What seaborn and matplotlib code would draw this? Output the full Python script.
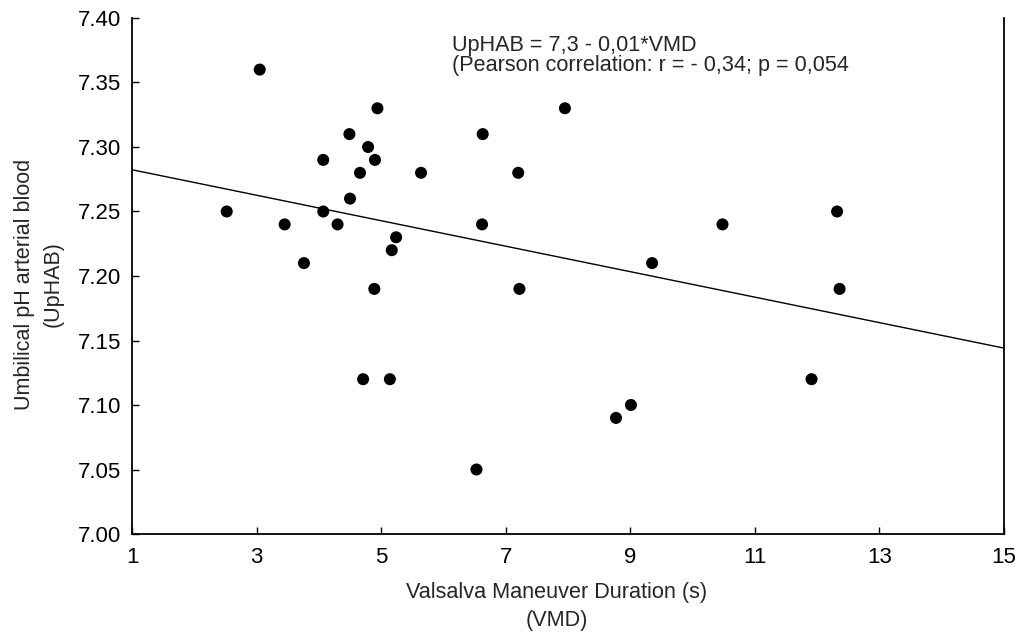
import matplotlib
matplotlib.use("Agg")
import matplotlib.pyplot as plt
import seaborn as sns
import pandas as pd

# Valsalva maneuver duration (s) vs umbilical arterial pH
vmd = [2.52, 3.05, 3.45, 3.76, 4.07, 4.07, 4.30, 4.49, 4.50, 4.66, 4.71,
       4.79, 4.89, 4.90, 4.94, 5.14, 5.17, 5.24, 5.64, 6.53, 6.62, 6.63,
       7.20, 7.22, 7.95, 8.77, 9.01, 9.35, 10.48, 11.91, 12.32, 12.36]
uphab = [7.25, 7.36, 7.24, 7.21, 7.29, 7.25, 7.24, 7.31, 7.26, 7.28, 7.12,
         7.30, 7.19, 7.29, 7.33, 7.12, 7.22, 7.23, 7.28, 7.05, 7.24, 7.31,
         7.28, 7.19, 7.33, 7.09, 7.10, 7.21, 7.24, 7.12, 7.25, 7.19]

x_ticks = [1, 3, 5, 7, 9, 11, 13, 15]
y_ticks = [7.00, 7.05, 7.10, 7.15, 7.20, 7.25, 7.30, 7.35, 7.40]

eq_text = "UpHAB = 7,3 - 0,01*VMD"
corr_text = "(Pearson correlation: r = - 0,34; p = 0,054"

df = pd.DataFrame({"VMD": vmd, "UpHAB": uphab})

sns.set_style("ticks")
plt.rcParams["font.family"] = ["Liberation Sans", "DejaVu Sans"]

fig = plt.figure(figsize=(10.22, 6.38), dpi=100)
ax = fig.add_axes([0.1292, 0.1630, 0.8532, 0.8088])
ax.set_xlim(1, 15)
ax.set_ylim(7.0, 7.4)

# regression line across the whole x range
sns.regplot(data=df, x="VMD", y="UpHAB", ax=ax, scatter=False, ci=None,
            truncate=False, line_kws={"color": "black", "lw": 1.0})
sns.scatterplot(data=df, x="VMD", y="UpHAB", ax=ax, color="black", s=75,
                edgecolor="none", zorder=3)

ax.set_xlim(1, 15)
ax.set_ylim(7.0, 7.4)
ax.set_xticks(x_ticks)
ax.set_yticks(y_ticks)
ax.set_yticklabels([f"{v:.2f}" for v in y_ticks])
ax.tick_params(axis="both", direction="in", length=5, width=1.0,
               labelsize=16, colors="black")
ax.tick_params(axis="x", pad=9)
ax.tick_params(axis="y", pad=8)

for side in ["left", "bottom", "right"]:
    ax.spines[side].set_linewidth(1.3)
    ax.spines[side].set_color("black")
ax.spines["top"].set_visible(False)

ax.set_xlabel("Valsalva Maneuver Duration (s)\n(VMD)", fontsize=15.6,
              linespacing=1.45, va="top")
ax.set_ylabel("Umbilical pH arterial blood\n(UpHAB)", fontsize=15.5,
              linespacing=1.5)
ax.xaxis.set_label_coords(0.487, -0.093)
ax.yaxis.set_label_coords(-0.078, 0.484)

ax.text(0.367, 0.936, eq_text, transform=ax.transAxes, fontsize=15.6,
        va="baseline", ha="left")
ax.text(0.367, 0.897, corr_text, transform=ax.transAxes, fontsize=15.6,
        va="baseline", ha="left")

fig.savefig("out.png", dpi=100)
